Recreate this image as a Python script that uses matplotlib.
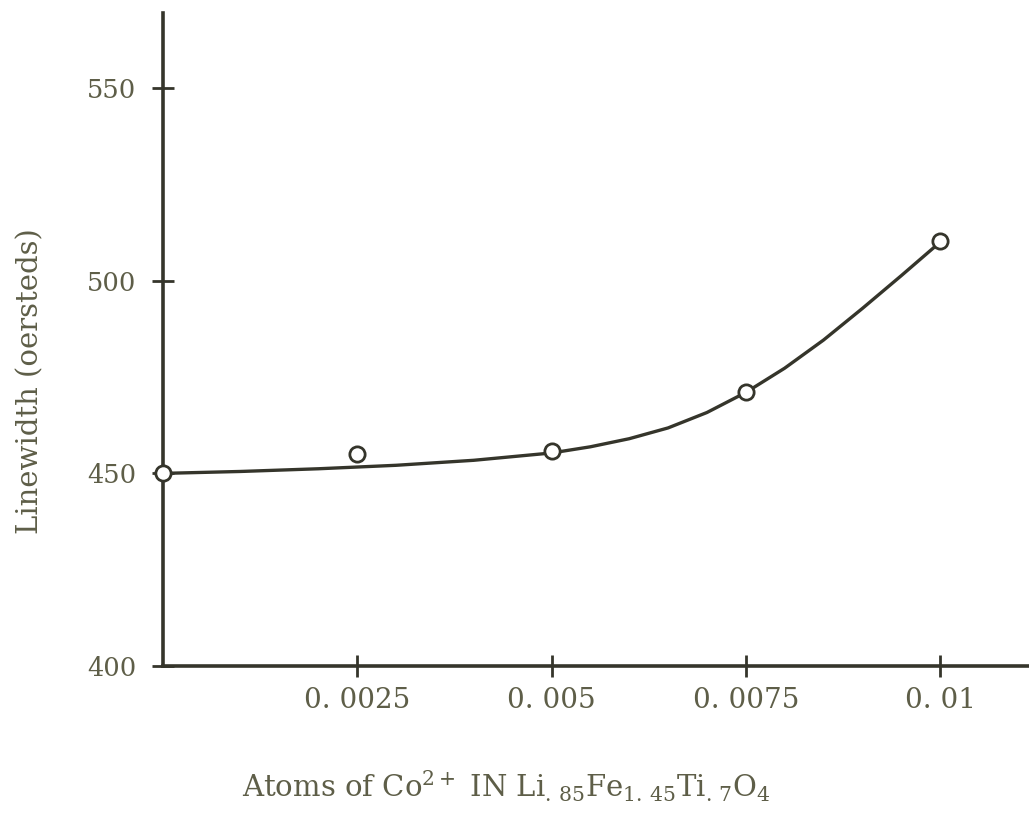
import matplotlib
matplotlib.use("Agg")
import matplotlib.pyplot as plt

# measured points (open circles)
pts_x = [0.0, 0.0025, 0.005, 0.0075, 0.01]
pts_y = [450.0, 455.0, 455.8, 471.2, 510.3]

# hand-drawn smooth curve
curve_x = [0.0, 0.001, 0.002, 0.003, 0.004, 0.005, 0.0055, 0.006, 0.0065,
           0.007, 0.0075, 0.008, 0.0085, 0.009, 0.0095, 0.01]
curve_y = [450.0, 450.5, 451.2, 452.1, 453.4, 455.3, 456.9, 459.0, 461.8,
           465.8, 471.0, 477.3, 484.6, 492.8, 501.3, 510.0]

xticks = [0.0025, 0.005, 0.0075, 0.01]
xtick_labels = ["0. 0025", "0. 005", "0. 0075", "0. 01"]
yticks = [400, 450, 500, 550]

ink = "#35352b"
txt = "#5e5e48"

plt.rcParams["font.family"] = "DejaVu Serif"
plt.rcParams["mathtext.fontset"] = "dejavuserif"

fig = plt.figure(figsize=(10.29, 8.17), dpi=100)
ax = fig.add_axes([0.1584, 0.1848, 0.8416, 0.7993])

ax.plot(curve_x, curve_y, color=ink, lw=2.4, zorder=2)
ax.plot(pts_x, pts_y, "o", ms=11, mfc="white", mec=ink, mew=2, zorder=3,
        clip_on=False)

ax.set_xlim(0, 0.011145)
ax.set_ylim(400, 569.5)

ax.spines["top"].set_visible(False)
ax.spines["right"].set_visible(False)
for s in ("left", "bottom"):
    ax.spines[s].set_linewidth(2.6)
    ax.spines[s].set_color(ink)

ax.set_xticks(xticks)
ax.set_xticklabels(xtick_labels)
ax.set_yticks(yticks)
ax.tick_params(axis="both", direction="inout", length=16, width=2,
               color=ink, labelcolor=txt, labelsize=18.5)
ax.tick_params(axis="y", pad=11)
ax.tick_params(axis="x", pad=7, labelsize=20)

fig.text(30 / 1029, 1 - 381 / 817, "Linewidth (oersteds)", rotation=90,
         ha="center", va="center", fontsize=21, color=txt)
fig.text(506 / 1029, 1 - 786 / 817,
         r"Atoms of Co$^{2+}$ IN Li$_{.\,85}$Fe$_{1.\,45}$Ti$_{.\,7}$O$_{4}$",
         ha="center", va="center", fontsize=21, color=txt)

fig.savefig("out.png", dpi=100)
